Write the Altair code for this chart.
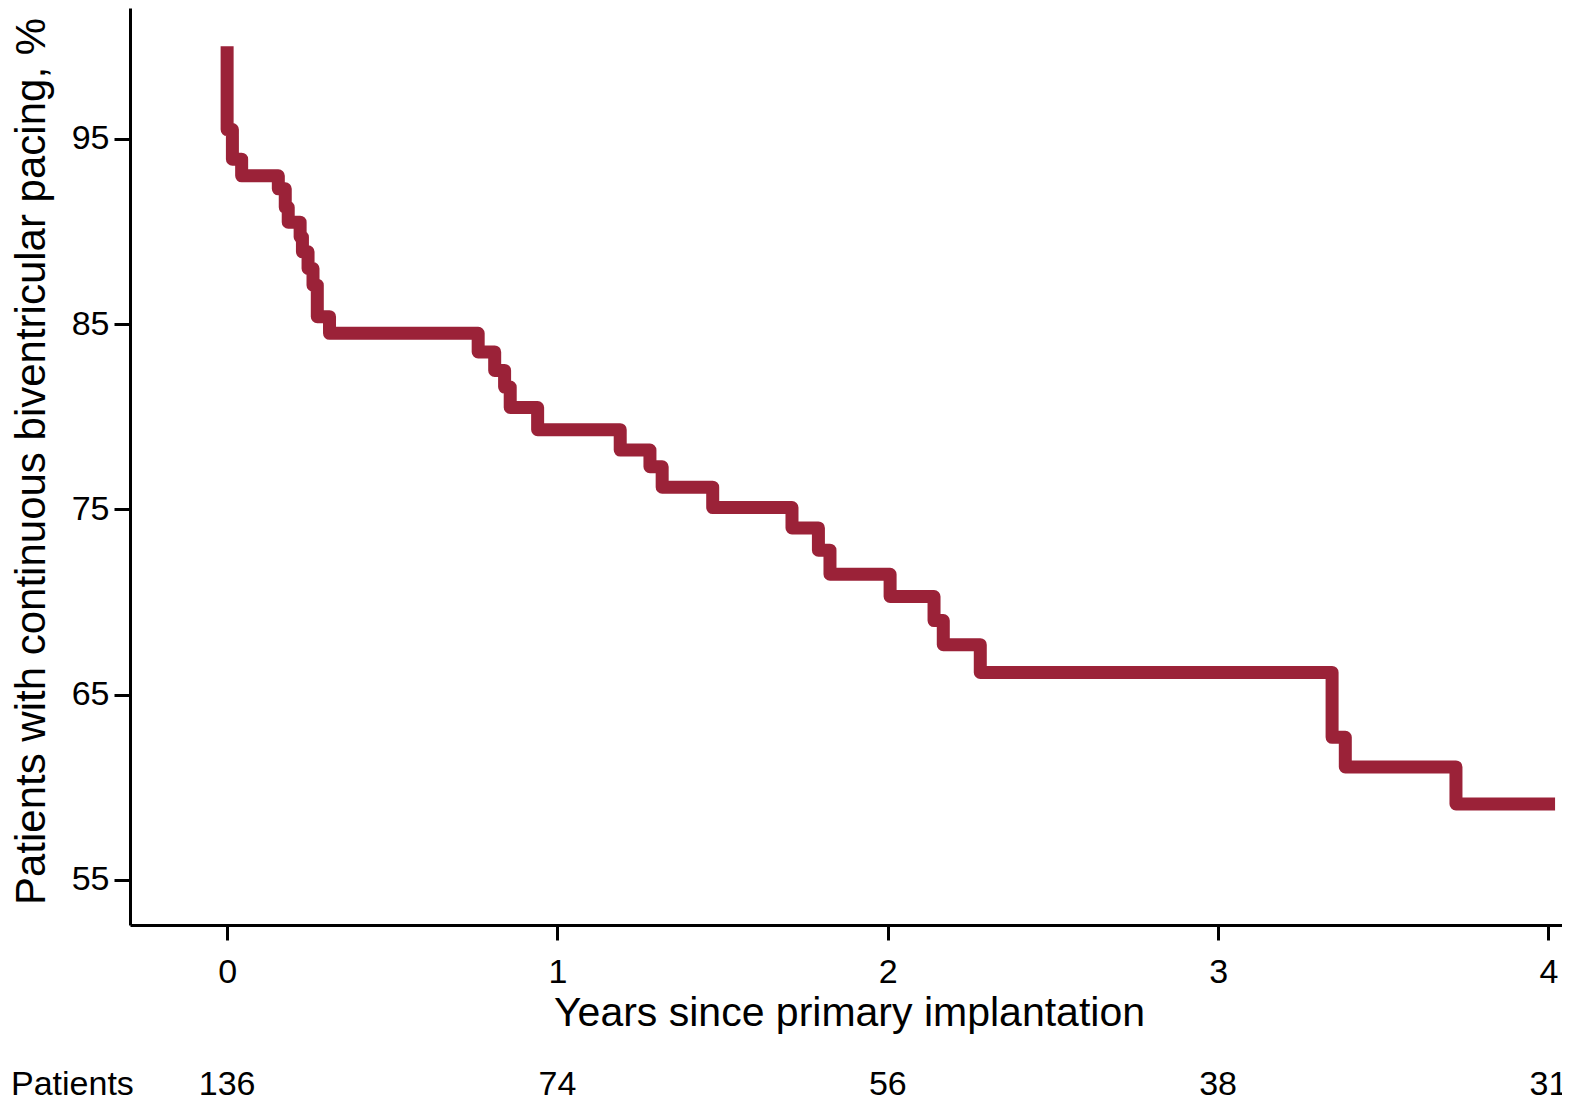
import altair as alt
import pandas as pd

# Kaplan-Meier steps (years, % with continuous BiV pacing)
years = [0.0, 0.0, 0.016, 0.044, 0.155, 0.176, 0.185, 0.221, 0.228, 0.245, 0.26,
         0.273, 0.31, 0.76, 0.81, 0.84, 0.857, 0.94, 1.19, 1.28, 1.317, 1.47,
         1.71, 1.79, 1.825, 2.007, 2.14, 2.168, 2.28, 3.345, 3.385, 3.72, 4.02]
surv = [100.0, 95.5, 93.9, 93.0, 92.3, 91.3, 90.5, 89.7, 88.9, 88.0, 87.1,
        85.4, 84.5, 83.5, 82.5, 81.6, 80.5, 79.3, 78.2, 77.3, 76.2, 75.1,
        74.0, 72.8, 71.5, 70.3, 69.0, 67.7, 66.2, 62.7, 61.1, 59.1, 59.1]

x_ticks = [0, 1, 2, 3, 4]
y_ticks = [55, 65, 75, 85, 95]
at_risk = [136, 74, 56, 38, 31]
risk_label = ["Patients"]

FONT = "Liberation Sans"
COLOR = "#9b2238"

km = pd.DataFrame({"t": years, "s": surv, "k": list(range(len(years)))})
risk = pd.DataFrame({"t": x_ticks, "n": [str(v) for v in at_risk]})
lab = pd.DataFrame({"label": risk_label})

xscale = alt.Scale(domain=[-0.294, 4.041], nice=False, zero=False)
yscale = alt.Scale(domain=[52.57, 102.06], nice=False, zero=False)

line = alt.Chart(km).mark_line(
    interpolate="step-after", color=COLOR, strokeWidth=13,
    strokeJoin="round", strokeCap="butt"
).encode(
    x=alt.X("t:Q", scale=xscale, axis=alt.Axis(
        values=x_ticks, format="d", title="Years since primary implantation",
        grid=False, domainColor="black", domainWidth=3, tickColor="black",
        tickWidth=3, tickSize=15, labelFont=FONT, labelFontSize=34,
        labelColor="black", labelPadding=15, labelFlush=False,
        titleFont=FONT, titleFontSize=41, titleFontWeight="normal",
        titleColor="black", titleBaseline="alphabetic", titleY=100, titleX=719)),
    y=alt.Y("s:Q", scale=yscale, axis=alt.Axis(
        values=y_ticks, format="d", title="Patients with continuous biventricular pacing, %",
        grid=False, domainColor="black", domainWidth=3, tickColor="black",
        tickWidth=3, tickSize=16, labelFont=FONT, labelFontSize=34,
        labelColor="black", labelPadding=5,
        titleFont=FONT, titleFontSize=42, titleFontWeight="normal",
        titleColor="black", titleAngle=-90, titleBaseline="top",
        titleX=-119, titleY=453)),
    order="k:Q",
)

risk_text = alt.Chart(risk).mark_text(
    font=FONT, fontSize=34, color="black", align="center", baseline="middle"
).encode(x=alt.X("t:Q", scale=xscale), y=alt.value(1077), text="n:N")

risk_lab = alt.Chart(lab).mark_text(
    font=FONT, fontSize=34, color="black", align="left", baseline="middle"
).encode(x=alt.value(-119), y=alt.value(1077), text="label:N")

chart = alt.layer(line, risk_text, risk_lab).properties(
    width=1432, height=917,
    autosize=alt.AutoSizeParams(type="none"),
    padding={"left": 122, "top": 0, "right": 0, "bottom": 179},
).configure_view(strokeWidth=0)

chart.save("out.html", embed_options={"renderer": "svg", "actions": False})
